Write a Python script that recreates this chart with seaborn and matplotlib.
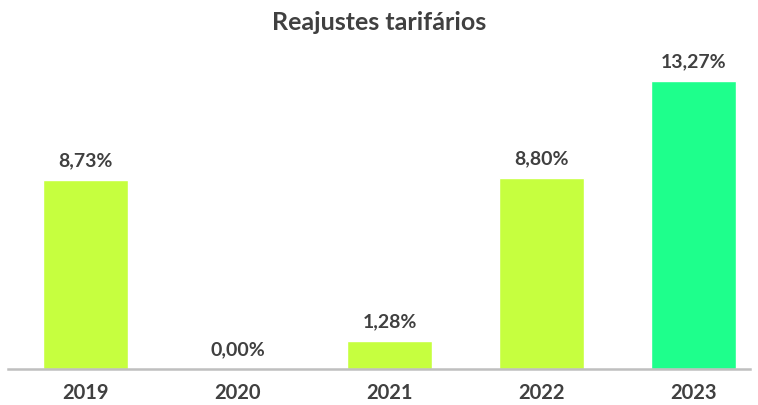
import matplotlib
matplotlib.use("Agg")
import matplotlib.pyplot as plt
import seaborn as sns
import pandas as pd

# === Data ===
years = ["2019", "2020", "2021", "2022", "2023"]
values = [8.73, 0.00, 1.28, 8.80, 13.27]
labels = ["8,73%", "0,00%", "1,28%", "8,80%", "13,27%"]
bar_colors = ["#C6FF3F", "#C6FF3F", "#C6FF3F", "#C6FF3F", "#1EFF8C"]

df = pd.DataFrame({"ano": years, "reajuste": values})

sns.set_style("white")
plt.rcParams['font.family'] = ['Lato', 'DejaVu Sans']

fig = plt.figure(figsize=(7.58, 4.05), dpi=100)
ax = fig.add_axes([8 / 758, 36 / 405, 742 / 758, 329 / 405])

sns.barplot(data=df, x="ano", y="reajuste", hue="ano", palette=bar_colors,
            legend=False, width=0.56, saturation=1, ax=ax)

ax.set_xlim(-0.51, 4.37)
ax.set_ylim(0, 15.16)

# value labels above the bars
for i, (v, lab) in enumerate(zip(values, labels)):
    ax.annotate(lab, (i, v), xytext=(0, 13.7), textcoords="offset points",
                ha="center", va="center", fontsize=14, fontweight="bold",
                color="#404040")

for s in ["top", "right", "left"]:
    ax.spines[s].set_visible(False)
ax.spines["bottom"].set_color("#BFBFBF")
ax.spines["bottom"].set_linewidth(1.8)

ax.set_yticks([])
ax.set_xlabel("")
ax.set_ylabel("")
ax.tick_params(axis="x", length=0, pad=10, labelsize=14.5, labelcolor="#404040")
for t in ax.get_xticklabels():
    t.set_fontweight("bold")

fig.text(0.5, 1 - 22 / 405, "Reajustes tarifários", ha="center", va="center",
         fontsize=18, fontweight="bold", color="#404040")

fig.savefig("out.png", dpi=100)
